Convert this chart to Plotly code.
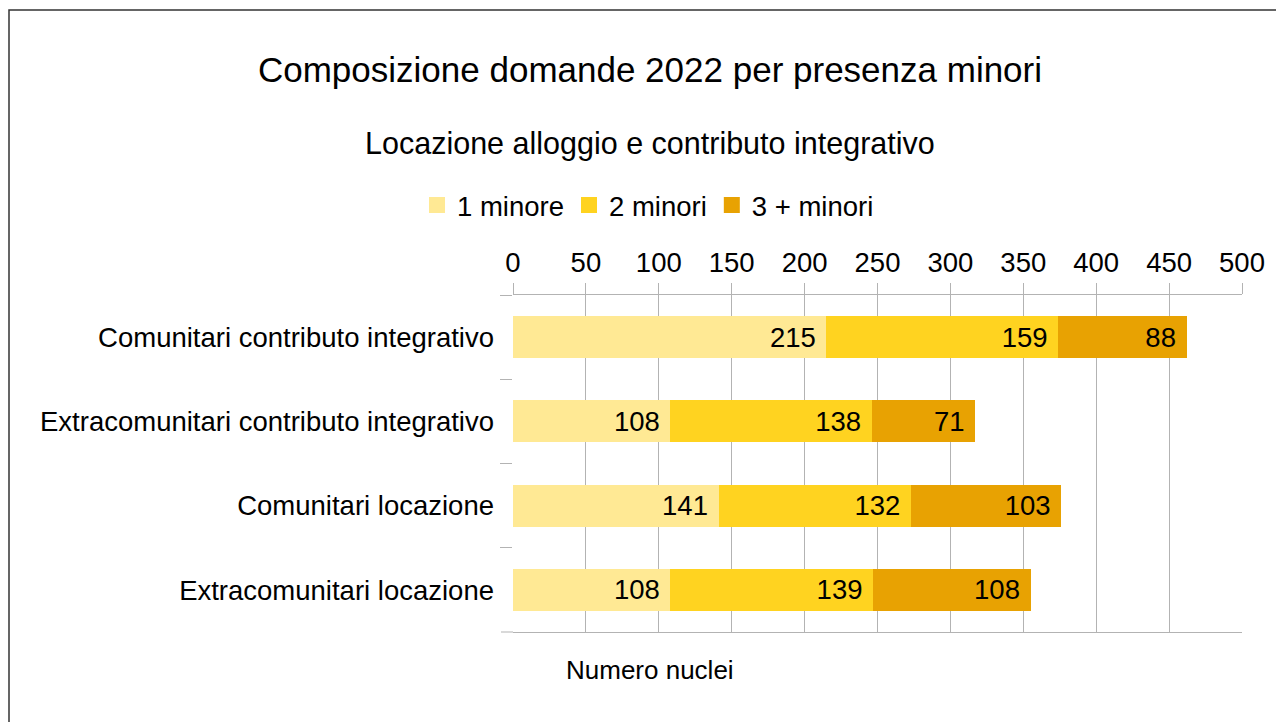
import plotly.graph_objects as go

categories = [
    "Comunitari contributo integrativo",
    "Extracomunitari contributo integrativo",
    "Comunitari locazione",
    "Extracomunitari locazione",
]
one_minor = [215, 108, 141, 108]
two_minors = [159, 138, 132, 139]
three_plus = [88, 71, 103, 108]

series = [
    ("1 minore", one_minor, "#FFE994"),
    ("2 minori", two_minors, "#FFD320"),
    ("3 + minori", three_plus, "#E8A202"),
]

# the page body has an 8px margin, so the figure starts at (8, 8) on screen
OFF = 8
W, H = 1284 - OFF, 722 - OFF
L, R, T, B = 513 - OFF, 1242 - OFF, 295 - OFF, 632 - OFF
FONT = "Liberation Sans, Arial, sans-serif"


def px_x(p):
    return (p - OFF - L) / (R - L)


def px_y(p):
    return (B - (p - OFF)) / (B - T)


fig = go.Figure()
for name, values, color in series:
    fig.add_trace(
        go.Bar(
            y=categories,
            x=values,
            name=name,
            orientation="h",
            marker=dict(color=color, line=dict(width=0)),
            text=values,
            texttemplate="%{x}\u00a0",
            textposition="inside",
            insidetextanchor="end",
            textfont=dict(family=FONT, size=27.5, color="black"),
            showlegend=False,
        )
    )
    # legend entry with a bigger square swatch
    fig.add_trace(
        go.Scatter(
            x=[None],
            y=[None],
            mode="markers",
            name=name,
            marker=dict(symbol="square", size=16, color=color),
        )
    )

fig.update_layout(
    width=W,
    height=H,
    barmode="stack",
    bargap=0.5,
    paper_bgcolor="white",
    plot_bgcolor="white",
    font=dict(family=FONT, size=27.5, color="black"),
    margin=dict(l=L, r=W - R, t=T, b=H - B, pad=0),
    title=dict(
        text="Composizione domande 2022 per presenza minori",
        font=dict(size=35, color="black"),
        x=(650 - OFF) / W,
        xanchor="center",
        xref="container",
        y=1 - (70 - OFF) / H,
        yanchor="middle",
        yref="container",
    ),
    legend=dict(
        orientation="h",
        x=px_x(648),
        xanchor="center",
        y=px_y(205),
        yanchor="middle",
        font=dict(size=27.5),
        traceorder="normal",
        itemwidth=30,
    ),
    uniformtext=dict(minsize=10, mode="show"),
)

fig.update_xaxes(
    range=[0, 500],
    dtick=50,
    side="top",
    showgrid=True,
    gridcolor="#b3b3b3",
    gridwidth=1,
    zeroline=False,
    showline=True,
    linecolor="#b3b3b3",
    mirror=True,
    ticks="outside",
    ticklen=11,
    tickcolor="#b3b3b3",
    ticklabelstandoff=0,
    tickfont=dict(size=27.5),
)
fig.update_yaxes(
    autorange="reversed",
    showgrid=False,
    showline=False,
    ticks="outside",
    tickson="boundaries",
    ticklen=12,
    tickcolor="#b3b3b3",
    ticklabelstandoff=18,
    tickfont=dict(size=27.5),
)

fig.add_annotation(
    text="Locazione alloggio e contributo integrativo",
    xref="paper",
    yref="paper",
    x=px_x(650),
    y=px_y(143),
    xanchor="center",
    yanchor="middle",
    showarrow=False,
    font=dict(size=30.5),
)
fig.add_annotation(
    text="Numero nuclei",
    xref="paper",
    yref="paper",
    x=px_x(650),
    y=px_y(670),
    xanchor="center",
    yanchor="middle",
    showarrow=False,
    font=dict(size=26),
)

# last category boundary tick at the bottom of the plot
fig.add_shape(
    type="line",
    xref="paper",
    yref="paper",
    x0=-12 / (R - L),
    x1=0,
    y0=0,
    y1=0,
    line=dict(color="#b3b3b3", width=1),
)

# outer chart frame (cut by the right and bottom edges)
fig.add_shape(
    type="rect",
    xref="paper",
    yref="paper",
    x0=px_x(9),
    y0=px_y(10),
    x1=px_x(1284 + 20),
    y1=px_y(722 + 20),
    line=dict(color="#333333", width=1.5),
    layer="below",
)

fig.write_html("out.html")
